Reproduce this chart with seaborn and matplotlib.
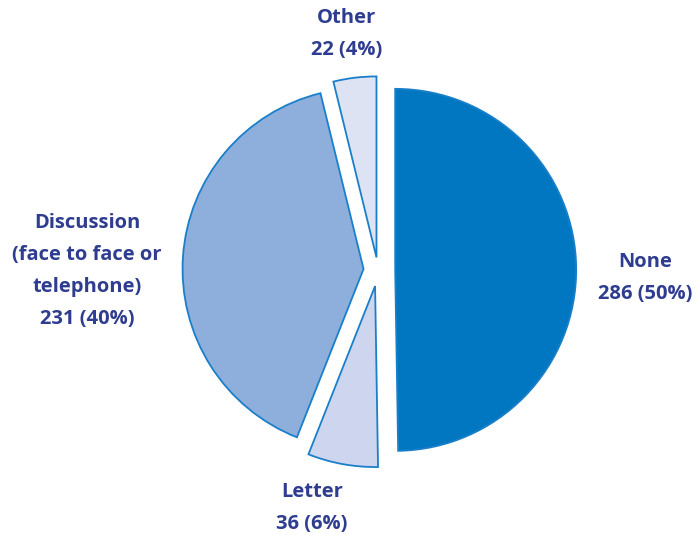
import numpy as np
import seaborn as sns
import matplotlib.pyplot as plt

# data
categories = ["None", "Letter", "Discussion\n(face to face or\ntelephone)", "Other"]
counts = [286, 36, 231, 22]
percents = [50, 6, 40, 4]
colors = ["#0077c0", "#cdd6ee", "#8eaedb", "#dde3f3"]

sns.set_theme(style="white")
plt.rcParams['font.family'] = ['Open Sans', 'DejaVu Sans']

fig = plt.figure(figsize=(6.98, 5.35), dpi=100)
ax = fig.add_axes([0, 0, 1, 1])

R = 181.0
cx, cy = 378.0, 270.0

wedges, _ = ax.pie(counts, colors=colors, startangle=90, counterclock=False,
                   explode=[0.095, 0.09, 0.08, 0.07], radius=1.0,
                   wedgeprops=dict(edgecolor="#1a7fc9", linewidth=1.3))

ax.set_xlim(-cx / R, (698 - cx) / R)
ax.set_ylim((cy - 535) / R, cy / R)
ax.set_aspect("equal")
ax.axis("off")

# label positions in pixel coords of the reference
label_px = [(645, 278), (312, 508), (87, 271), (347, 34)]
for cat, n, p, (px, py) in zip(categories, counts, percents, label_px):
    ax.text((px - cx) / R, (cy - py) / R, f"{cat}\n{n} ({p}%)",
            ha="center", va="center", fontsize=14.5, fontweight="bold",
            color="#2e3d8f", linespacing=1.8)

plt.savefig("out.png", dpi=100)
plt.close()
